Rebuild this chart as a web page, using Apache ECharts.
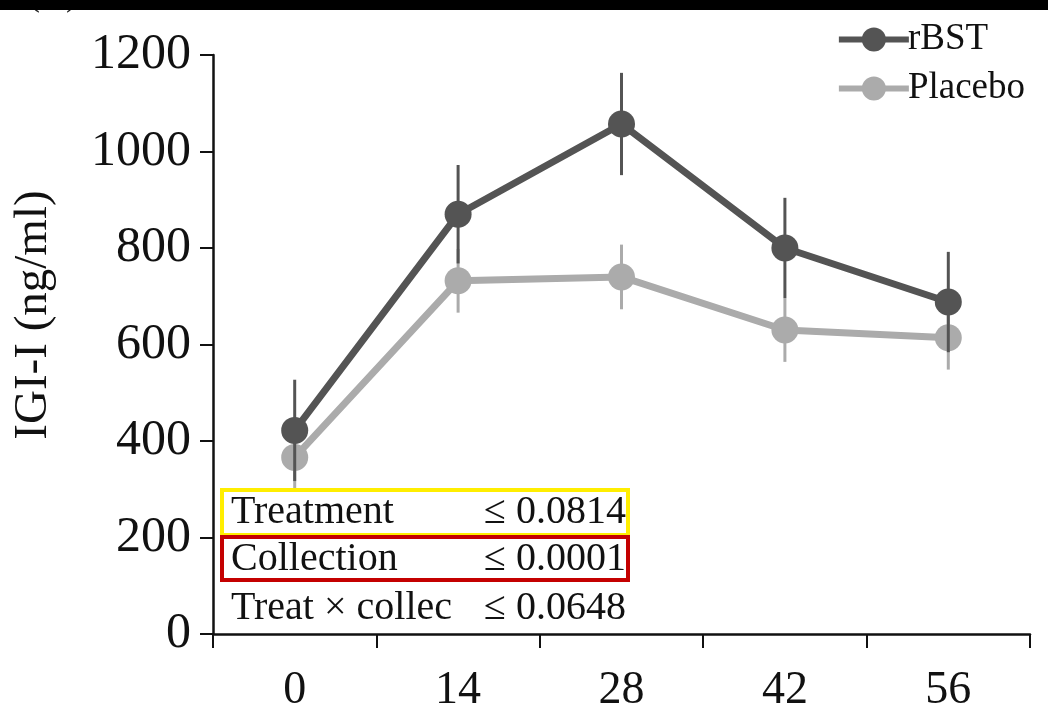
<!DOCTYPE html>
<html><head><meta charset="utf-8">
<script src="https://cdn.jsdelivr.net/npm/echarts@6/dist/echarts.min.js"></script>
<style>html,body{margin:0;padding:0;background:#fff}#c{width:1048px;height:724px}</style>
</head><body><div id="c"></div>
<script>
var categories = ['0', '14', '28', '42', '56'];
var rbst = [422, 870, 1057, 800, 688];
var rbstErr = [105, 102, 106, 104, 104];
var placebo = [366, 732, 740, 630, 614];
var placeboErr = [70, 66, 67, 66, 66];
var yTicks = [0, 200, 400, 600, 800, 1000, 1200];
var statNames = ['Treatment', 'Collection', 'Treat \u00d7 collec'];
var statValues = ['\u2264 0.0814', '\u2264 0.0001', '\u2264 0.0648'];
var yAxisTitle = 'IGI-I (ng/ml)';

var SERIF = '"Liberation Serif","DejaVu Serif",serif';
var DARK = '#545454', LIGHT = '#ababab';

function errData(vals, errs) {
  return vals.map(function (v, i) { return [i, v - errs[i], v + errs[i]]; });
}
function errSeries(name, vals, errs, color, z) {
  return {
    type: 'custom', name: name + ' err', z: z, silent: true,
    data: errData(vals, errs),
    renderItem: function (params, api) {
      var lo = api.coord([api.value(0), api.value(1)]);
      var hi = api.coord([api.value(0), api.value(2)]);
      return { type: 'line', shape: { x1: lo[0], y1: lo[1], x2: hi[0], y2: hi[1] },
        style: { stroke: color, lineWidth: 3 } };
    }
  };
}

var chart = echarts.init(document.getElementById('c'));
var graphics = [
  { type: 'text', left: 28, top: -22, style: { text: '(A)', font: '36px ' + SERIF, fill: '#222' }, z: 1 },
  { type: 'rect', shape: { x: 0, y: 0, width: 1048, height: 10 }, style: { fill: '#000' }, z: 2 },
  { type: 'text', x: 34, y: 315, rotation: Math.PI / 2,
    style: { text: yAxisTitle, font: '47px ' + SERIF, fill: '#111', textAlign: 'center', textVerticalAlign: 'middle' }, z: 6 },
  { type: 'rect', shape: { x: 222, y: 490, width: 406, height: 45 }, style: { fill: null, stroke: '#ffee00', lineWidth: 4 }, z: 5 },
  { type: 'rect', shape: { x: 222, y: 537, width: 406, height: 43 }, style: { fill: null, stroke: '#c40000', lineWidth: 4 }, z: 5 }
];
var rowY = [512, 559, 608];
statNames.forEach(function (s, i) {
  graphics.push({ type: 'text', x: 231, y: rowY[i], style: { text: s, font: '40px ' + SERIF, fill: '#111', textVerticalAlign: 'middle' }, z: 6 });
  graphics.push({ type: 'text', x: 626, y: rowY[i], style: { text: statValues[i], font: '40px ' + SERIF, fill: '#111', textAlign: 'right', textVerticalAlign: 'middle' }, z: 6 });
});

chart.setOption({
  animation: false,
  grid: { left: 213, right: 18, top: 55, bottom: 90 },
  legend: {
    orient: 'vertical', right: 18, top: 16, itemGap: 12, itemWidth: 70, itemHeight: 30,
    data: ['rBST', 'Placebo'],
    lineStyle: { width: 6 },
    textStyle: { fontFamily: SERIF, fontSize: 37, color: '#111', padding: [0, 0, 0, -6] }
  },
  xAxis: {
    type: 'category', data: categories, boundaryGap: true,
    axisLine: { lineStyle: { color: '#111', width: 2.5 } },
    axisTick: { show: true, interval: 0, length: 14, lineStyle: { color: '#111', width: 2 } },
    axisLabel: { margin: 34, fontFamily: SERIF, fontSize: 46, color: '#111' },
    splitLine: { show: false }
  },
  yAxis: {
    type: 'value', min: 0, max: 1200, interval: 200,
    axisLine: { show: true, lineStyle: { color: '#111', width: 2.5 } },
    axisTick: { show: true, length: 13, lineStyle: { color: '#111', width: 2 } },
    axisLabel: { margin: 22, fontFamily: SERIF, fontSize: 50, color: '#111',
      formatter: function (v) { return yTicks.indexOf(v) >= 0 ? String(v) : ''; } },
    splitLine: { show: false }
  },
  series: [
    errSeries('Placebo', placebo, placeboErr, LIGHT, 2),
    { type: 'line', name: 'Placebo', data: placebo, z: 3, symbol: 'circle', symbolSize: 27,
      lineStyle: { color: LIGHT, width: 7 }, itemStyle: { color: LIGHT } },
    errSeries('rBST', rbst, rbstErr, DARK, 4),
    { type: 'line', name: 'rBST', data: rbst, z: 5, symbol: 'circle', symbolSize: 27,
      lineStyle: { color: DARK, width: 7 }, itemStyle: { color: DARK } }
  ],
  graphic: graphics
});
</script></body></html>
